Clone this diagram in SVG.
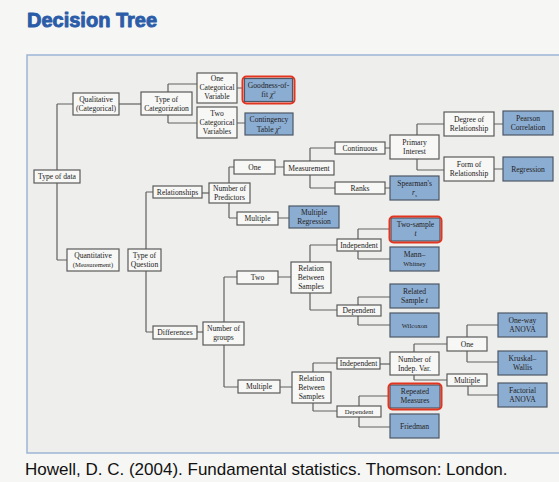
<svg xmlns="http://www.w3.org/2000/svg" width="559" height="482" viewBox="0 0 559 482">
<style>
.bg{fill:#f6f6f4}
.panel{fill:#eeeeec;stroke:#9db5d3;stroke-width:1.5}
.n{fill:#f7f7f5;stroke:#5a5a5a;stroke-width:1.2}
.b{fill:#8cadd2;stroke:#4c5866;stroke-width:1.2}
.hl{fill:none;stroke:#e2341f;stroke-width:2}
.t{font-family:"Liberation Serif","Times New Roman",serif;font-size:7.6px;fill:#222;text-anchor:middle}
.s{font-size:6.6px}
.c line,.c path{stroke:#606060;stroke-width:1.2;fill:none}
.title{font-family:"Liberation Sans",Arial,sans-serif;font-weight:bold;font-size:20px;fill:#2b5ca8;stroke:#2b5ca8;stroke-width:0.9;stroke-linejoin:round}
.cap{font-family:"Liberation Sans",Arial,sans-serif;font-size:17px;fill:#111}
</style>
<rect class="bg" x="0" y="0" width="559" height="482"/>
<text class="title" x="27" y="27">Decision Tree</text>
<rect class="panel" x="27" y="55" width="545" height="398"/>

<g id="connectors" class="c">
<path d="M57,104V260M57,104H73M57,260H67"/>
<path d="M119,104H141"/>
<path d="M168,84V123M168,84H197M168,123H197"/>
<path d="M237,88H243M237,123H245"/>
<path d="M146,192V332M146,192H153M146,332H153"/>
<path d="M202,193H209"/>
<path d="M229,167V218M229,167H234M229,218H237"/>
<path d="M275,167H284M278,218H289"/>
<path d="M310,148V188M310,148H335M310,188H335"/>
<path d="M385,148H390M385,188H390"/>
<path d="M417,124V170M417,124H444M417,170H444"/>
<path d="M494,124H503M494,169H503"/>
<path d="M197,332H203"/>
<path d="M224,277V387M224,277H237M224,387H238"/>
<path d="M278,277H291M280,387H292"/>
<path d="M310,245V310M310,245H337M310,310H337"/>
<path d="M358,229V259M358,229H390M358,259H390"/>
<path d="M358,297V325M358,297H390M358,325H390"/>
<path d="M313,363V411M313,363H337M313,411H337"/>
<path d="M380,364H390"/>
<path d="M414,344V380M414,344H447M414,380H447"/>
<path d="M467,325V362M467,325H498M467,362H498"/>
<path d="M468,386V395H498"/>
<path d="M359,396V427M359,396H389M359,427H390"/>
</g>

<g id="typeData"><rect class="n" x="34" y="170" width="46" height="13"/><text class="t" x="57" y="179.3">Type of data</text></g>
<g id="qualitative"><rect class="n" x="73" y="93" width="46" height="22"/><text class="t" x="96" y="102">Qualitative</text><text class="t" x="96" y="111">(Categorical)</text></g>
<g id="quantitative"><rect class="n" x="67" y="249" width="52" height="22"/><text class="t" x="93" y="258">Quantitative</text><text class="t s" x="93" y="267">(Measurement)</text></g>
<g id="typeCat"><rect class="n" x="141" y="92" width="51" height="23"/><text class="t" x="166.5" y="101.5">Type of</text><text class="t" x="166.5" y="110.5">Categorization</text></g>
<g id="oneCat"><rect class="n" x="197" y="73" width="40" height="30"/><text class="t" x="217" y="81">One</text><text class="t" x="217" y="90">Categorical</text><text class="t" x="217" y="99">Variable</text></g>
<g id="twoCat"><rect class="n" x="197" y="107" width="40" height="31"/><text class="t" x="217" y="115.5">Two</text><text class="t" x="217" y="124.5">Categorical</text><text class="t" x="217" y="133.5">Variables</text></g>
<g id="goodness"><rect class="b" x="244.5" y="78.5" width="48" height="23"/><rect class="hl" x="242.5" y="76.5" width="52" height="27" rx="4"/><text class="t" x="268.5" y="87.5">Goodness-of-</text><text class="t" x="268.5" y="97"><tspan>fit </tspan><tspan font-style="italic">χ</tspan><tspan dy="-3" font-size="5">2</tspan></text></g>
<g id="contingency"><rect class="b" x="245" y="113" width="48" height="22"/><text class="t" x="269" y="122">Contingency</text><text class="t" x="269" y="131.5"><tspan>Table </tspan><tspan font-style="italic">χ</tspan><tspan dy="-3" font-size="5">2</tspan></text></g>
<g id="typeQuestion"><rect class="n" x="128" y="249" width="33" height="22"/><text class="t" x="144.5" y="258">Type of</text><text class="t" x="144.5" y="267">Question</text></g>
<g id="relationships"><rect class="n" x="153" y="186" width="49" height="12"/><text class="t" x="177.5" y="194.7">Relationships</text></g>
<g id="numPredictors"><rect class="n" x="209" y="183" width="41" height="20"/><text class="t" x="229.5" y="191">Number of</text><text class="t" x="229.5" y="200">Predictors</text></g>
<g id="onePred"><rect class="n" x="234" y="160" width="41" height="14"/><text class="t" x="254.5" y="169.7">One</text></g>
<g id="multiplePred"><rect class="n" x="237" y="212" width="41" height="13"/><text class="t" x="257.5" y="221.3">Multiple</text></g>
<g id="multRegression"><rect class="b" x="289" y="206" width="50" height="22"/><text class="t" x="314" y="215">Multiple</text><text class="t" x="314" y="224">Regression</text></g>
<g id="measurement"><rect class="n" x="284" y="161" width="50" height="14"/><text class="t" x="309" y="170.7">Measurement</text></g>
<g id="continuous"><rect class="n" x="335" y="142" width="50" height="12"/><text class="t" x="360" y="150.7">Continuous</text></g>
<g id="ranks"><rect class="n" x="335" y="182" width="50" height="12"/><text class="t" x="360" y="190.7">Ranks</text></g>
<g id="primary"><rect class="n" x="390" y="135" width="49" height="24"/><text class="t" x="414.5" y="145">Primary</text><text class="t" x="414.5" y="154">Interest</text></g>
<g id="spearman"><rect class="b" x="390" y="176" width="49" height="24"/><text class="t" x="414.5" y="186">Spearman's</text><text class="t" x="414.5" y="195"><tspan font-style="italic">r</tspan><tspan font-style="italic" font-size="5" dy="1.5">s</tspan></text></g>
<g id="degree"><rect class="n" x="444" y="112" width="50" height="24"/><text class="t" x="469" y="122">Degree of</text><text class="t" x="469" y="131">Relationship</text></g>
<g id="pearson"><rect class="b" x="503" y="111" width="50" height="24"/><text class="t" x="528" y="121">Pearson</text><text class="t" x="528" y="130">Correlation</text></g>
<g id="form"><rect class="n" x="444" y="157" width="50" height="24"/><text class="t" x="469" y="167">Form of</text><text class="t" x="469" y="176">Relationship</text></g>
<g id="regression"><rect class="b" x="503" y="157" width="50" height="24"/><text class="t" x="528" y="171.7">Regression</text></g>
<g id="differences"><rect class="n" x="153" y="326" width="44" height="13"/><text class="t" x="175" y="335.3">Differences</text></g>
<g id="numGroups"><rect class="n" x="203" y="322" width="41" height="23"/><text class="t" x="223.5" y="331">Number of</text><text class="t" x="223.5" y="340">groups</text></g>
<g id="twoGroups"><rect class="n" x="237" y="271" width="41" height="13"/><text class="t" x="257.5" y="280.3">Two</text></g>
<g id="multipleGroups"><rect class="n" x="238" y="380" width="42" height="13"/><text class="t" x="259" y="389.3">Multiple</text></g>
<g id="relation1"><rect class="n" x="291" y="262" width="40" height="31"/><text class="t" x="311" y="270.5">Relation</text><text class="t" x="311" y="279.5">Between</text><text class="t" x="311" y="288.5">Samples</text></g>
<g id="independent1"><rect class="n" x="337" y="239" width="44" height="12"/><text class="t" x="359" y="247.7">Independent</text></g>
<g id="dependent1"><rect class="n" x="337" y="305" width="44" height="11"/><text class="t" x="359" y="313.2">Dependent</text></g>
<g id="twoSample"><rect class="b" x="391" y="218" width="49" height="23"/><rect class="hl" x="389.5" y="216.5" width="52" height="26" rx="4"/><text class="t" x="415.5" y="227">Two-sample</text><text class="t" x="415.5" y="236" font-style="italic">t</text></g>
<g id="mannWhitney"><rect class="b" x="390" y="247" width="49" height="24"/><text class="t" x="414.5" y="257">Mann–</text><text class="t s" x="414.5" y="266">Whitney</text></g>
<g id="relatedT"><rect class="b" x="390" y="284" width="49" height="24"/><text class="t" x="414.5" y="294">Related</text><text class="t" x="414.5" y="303">Sample <tspan font-style="italic">t</tspan></text></g>
<g id="wilcoxon"><rect class="b" x="390" y="313" width="49" height="24"/><text class="t s" x="414.5" y="327.5">Wilcoxon</text></g>
<g id="relation2"><rect class="n" x="292" y="372" width="39" height="31"/><text class="t" x="311.5" y="380.5">Relation</text><text class="t" x="311.5" y="389.5">Between</text><text class="t" x="311.5" y="398.5">Samples</text></g>
<g id="independent2"><rect class="n" x="337" y="358" width="43" height="11"/><text class="t" x="358.5" y="366.2">Independent</text></g>
<g id="dependent2"><rect class="n" x="337" y="406" width="44" height="11"/><text class="t s" x="359" y="414">Dependent</text></g>
<g id="numIndepVar"><rect class="n" x="390" y="352" width="49" height="23"/><text class="t" x="414.5" y="361.5">Number of</text><text class="t" x="414.5" y="370.5">Indep. Var.</text></g>
<g id="oneIV"><rect class="n" x="447" y="337" width="40" height="14"/><text class="t" x="467" y="346.7">One</text></g>
<g id="multipleIV"><rect class="n" x="447" y="374" width="40" height="12"/><text class="t" x="467" y="382.7">Multiple</text></g>
<g id="oneWay"><rect class="b" x="498" y="313" width="49" height="24"/><text class="t" x="522.5" y="323">One-way</text><text class="t" x="522.5" y="332">ANOVA</text></g>
<g id="kruskal"><rect class="b" x="498" y="351" width="49" height="24"/><text class="t" x="522.5" y="361">Kruskal–</text><text class="t" x="522.5" y="370">Wallis</text></g>
<g id="factorial"><rect class="b" x="498" y="383" width="49" height="24"/><text class="t" x="522.5" y="393">Factorial</text><text class="t" x="522.5" y="402">ANOVA</text></g>
<g id="repeated"><rect class="b" x="390" y="385" width="50" height="23"/><rect class="hl" x="388.5" y="383.5" width="53" height="26" rx="4"/><text class="t" x="415" y="394">Repeated</text><text class="t" x="415" y="403">Measures</text></g>
<g id="friedman"><rect class="b" x="390" y="414" width="49" height="24"/><text class="t" x="414.5" y="428.7">Friedman</text></g>

<text class="cap" x="25" y="475">Howell, D. C. (2004). Fundamental statistics. Thomson: London.</text>
</svg>
